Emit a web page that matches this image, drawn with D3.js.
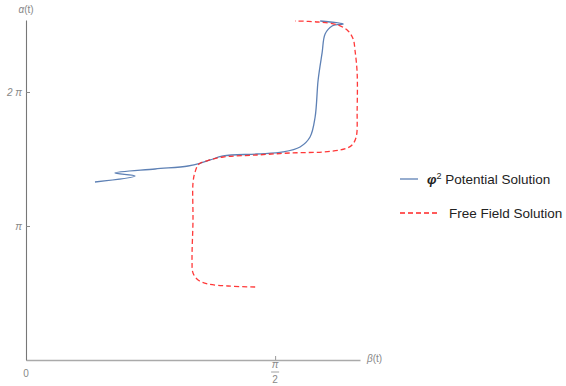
<!DOCTYPE html>
<html>
<head>
<meta charset="utf-8">
<script src="https://cdn.jsdelivr.net/npm/d3@7"></script>
<style>
  body { margin: 0; background: #fff; }
  svg { font-family: "Liberation Sans", Arial, sans-serif; }
</style>
</head>
<body>
<svg id="chart" width="566" height="386"></svg>
<script>
var PI = Math.PI;

// phi^2 potential solution: [beta, alpha]
var potentialBeta  = [0.435, 0.688, 0.561, 0.814, 1.022, 1.104, 1.161, 1.243, 1.457, 1.621, 1.728, 1.791, 1.823, 1.842, 1.867, 1.886, 1.930, 2.000, 1.855];
var potentialAlpha = [4.173, 4.314, 4.384, 4.478, 4.548, 4.619, 4.689, 4.783, 4.830, 4.877, 4.994, 5.228, 5.697, 6.565, 7.198, 7.643, 7.831, 7.878, 7.948];

// free field solution
var freeBeta  = [1.445, 1.274, 1.148, 1.085, 1.053, 1.047, 1.053, 1.053, 1.066, 1.091, 1.161, 1.243, 1.457, 1.665, 1.873, 1.981, 2.025, 2.056, 2.082, 2.088, 2.088, 2.075, 2.063, 2.031, 1.968, 1.842, 1.697];
var freeAlpha = [1.711, 1.735, 1.782, 1.876, 2.040, 2.345, 3.282, 4.150, 4.408, 4.595, 4.689, 4.759, 4.806, 4.853, 4.877, 4.923, 4.970, 5.041, 5.228, 5.861, 6.729, 7.245, 7.526, 7.713, 7.854, 7.924, 7.948];

var xTicks = [PI / 2];
var yTicks = [PI, 2 * PI];
var yTickLabels = ["\u03c0", "2 \u03c0"];
var seriesNames = ["Potential Solution", "Free Field Solution"];

var svg = d3.select("#chart");
var x = d3.scaleLinear().domain([0, 2.106]).range([26, 360]);
var y = d3.scaleLinear().domain([0, 7.971]).range([360, 20]);

var blue = "#5e81b5", red = "#ff2424";

// x axis
var xAxis = svg.append("g")
    .attr("transform", "translate(0,360)")
    .call(d3.axisBottom(x).tickValues(xTicks).tickSizeInner(-4).tickSizeOuter(0).tickFormat(""));
xAxis.select(".domain").attr("stroke", "#aaa").attr("stroke-width", 1.6);
xAxis.selectAll(".tick line").attr("stroke", "#999");

// y axis
var yAxis = svg.append("g")
    .attr("transform", "translate(26,0)")
    .call(d3.axisLeft(y).tickValues(yTicks).tickSizeInner(-4).tickSizeOuter(0).tickPadding(4)
      .tickFormat(function (d, i) { return yTickLabels[i]; }));
yAxis.select(".domain").attr("stroke", "#777").attr("stroke-width", 1.1);
yAxis.selectAll(".tick line").attr("stroke", "#888");
yAxis.selectAll(".tick text").attr("fill", "#888").style("font-size", "10px").style("font-style", "italic");

// origin label and pi/2 fraction
svg.append("text").attr("x", x(0)).attr("y", 377).attr("text-anchor", "middle")
  .attr("fill", "#888").style("font-size", "10px").text("0");
var fx = x(xTicks[0]);
svg.append("text").attr("x", fx).attr("y", 368).attr("text-anchor", "middle")
  .attr("fill", "#888").style("font-size", "10px").style("font-style", "italic").text("\u03c0");
svg.append("line").attr("x1", fx - 4).attr("x2", fx + 4).attr("y1", 372).attr("y2", 372)
  .attr("stroke", "#888").attr("stroke-width", 0.8);
svg.append("text").attr("x", fx).attr("y", 383).attr("text-anchor", "middle")
  .attr("fill", "#888").style("font-size", "10px").text("2");

// axis labels
svg.append("text").attr("x", 26).attr("y", 13).attr("text-anchor", "middle")
  .attr("fill", "#888").style("font-size", "10px")
  .html('<tspan font-style="italic">\u03b1</tspan>(t)');
svg.append("text").attr("x", 367).attr("y", 362)
  .attr("fill", "#888").style("font-size", "10px")
  .html('<tspan font-style="italic">\u03b2</tspan>(t)');

var line = d3.line()
    .x(function (d) { return x(d[0]); })
    .y(function (d) { return y(d[1]); })
    .curve(d3.curveCatmullRom.alpha(0.5));

var potential = d3.zip(potentialBeta, potentialAlpha);
var free = d3.zip(freeBeta, freeAlpha);

svg.append("path").datum(potential).attr("d", line)
  .attr("fill", "none").attr("stroke", blue).attr("stroke-width", 1.3);
svg.append("path").datum(free).attr("d", line)
  .attr("fill", "none").attr("stroke", red).attr("stroke-width", 1.3)
  .attr("stroke-dasharray", "5,3").attr("opacity", 0.9);

// legend
var lg = svg.append("g");
lg.append("line").attr("x1", 400).attr("x2", 418).attr("y1", 179).attr("y2", 179)
  .attr("stroke", blue).attr("stroke-width", 1.3);
lg.append("text").attr("x", 427).attr("y", 184).attr("fill", "#222").style("font-size", "13.5px")
  .html('<tspan font-style="italic" font-weight="bold">\u03c6</tspan><tspan dy="-5" font-size="9px">2</tspan><tspan dy="5"> ' + seriesNames[0] + '</tspan>');
lg.append("line").attr("x1", 400).attr("x2", 440).attr("y1", 213).attr("y2", 213)
  .attr("stroke", red).attr("stroke-width", 1.3).attr("stroke-dasharray", "5,3");
lg.append("text").attr("x", 449).attr("y", 218).attr("fill", "#222").style("font-size", "13.5px")
  .text(seriesNames[1]);
</script>
</body>
</html>
